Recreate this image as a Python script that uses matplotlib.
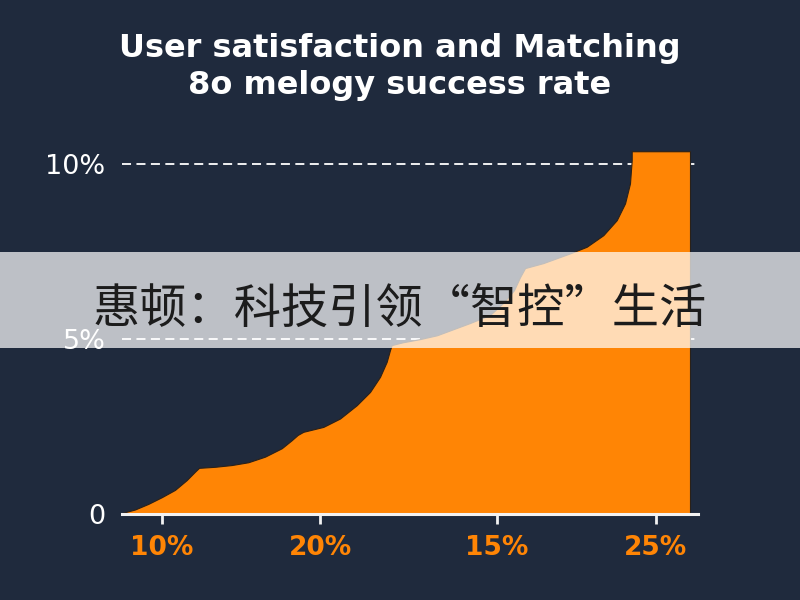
import matplotlib
matplotlib.use('Agg')
import matplotlib.pyplot as plt
from matplotlib.patches import Rectangle

BG = '#1f2a3d'
ORANGE = '#ff8505'

title = "User satisfaction and Matching\n8o melogy success rate"
banner = "惠顿：科技引领“智控”生活"

# curve (x: position along axis 0-100, y: percent)
curve_x = [0.23, 2.26, 4.57, 6.89, 9.20, 11.23, 12.67, 13.37, 16.15, 19.05,
           21.93, 24.83, 27.73, 29.46, 30.50, 31.48, 34.95, 37.85, 40.75, 43.06,
           44.79, 45.95, 46.53, 46.82, 48.78, 51.74, 54.69, 60.42, 63.89, 66.15,
           68.06, 69.10, 69.97, 73.09, 77.78, 80.68, 83.56, 85.89, 87.33, 88.19,
           88.49, 88.49, 98.61, 98.61]
curve_y = [0.04, 0.13, 0.29, 0.48, 0.69, 0.97, 1.21, 1.32, 1.35, 1.40,
           1.48, 1.64, 1.88, 2.11, 2.26, 2.35, 2.49, 2.73, 3.11, 3.49,
           3.92, 4.35, 4.69, 4.83, 4.91, 5.00, 5.11, 5.46, 5.69, 6.03,
           6.40, 6.77, 7.03, 7.17, 7.45, 7.64, 7.97, 8.40, 8.88, 9.45,
           10.11, 10.37, 10.37, 0.0]

xtick_pos = [6.9, 34.4, 65.1, 92.7]
xtick_labels = ["10%", "20%", "15%", "25%"]
ytick_pos = [0, 5, 10]
ytick_labels = ["0", "5%", "10%"]

fig = plt.figure(figsize=(8, 6), dpi=100, facecolor=BG)
ax = fig.add_axes([0.1525, 0.1433, 0.72, 0.6233])
ax.set_facecolor(BG)

for yv in ytick_pos[1:]:
    ax.axhline(yv, color='white', lw=1.3, ls=(0, (5, 3)), zorder=1)

ax.fill_between(curve_x, curve_y, 0, color=ORANGE, lw=0.8,
                edgecolor='#2b2118', zorder=2)

ax.set_xlim(0, 100)
ax.set_ylim(0, 10.69)

for s in ['top', 'right', 'left']:
    ax.spines[s].set_visible(False)
ax.spines['bottom'].set_color('#f2f2f2')
ax.spines['bottom'].set_linewidth(2.2)
ax.spines['bottom'].set_zorder(3)

ax.set_xticks(xtick_pos)
ax.set_xticklabels(xtick_labels, fontsize=19, fontweight='bold')
ax.tick_params(axis='x', colors='#f2f2f2', length=7, width=2, pad=8)
for lab in ax.get_xticklabels():
    lab.set_color(ORANGE)

ax.set_yticks(ytick_pos)
ax.set_yticklabels(ytick_labels, fontsize=19.5, color='white')
ax.tick_params(axis='y', length=0, pad=12)

fig.text(0.5, 0.945, title, ha='center', va='top', color='white',
         fontsize=23, fontweight='bold', linespacing=1.26)

fig.patches.append(Rectangle((0, 0.42), 1, 0.16, transform=fig.transFigure,
                             facecolor='white', alpha=0.71, zorder=5))
fig.text(0.5, 0.482, banner, ha='center', va='center', color='#1c1c1c',
         fontsize=34, family=['Noto Sans CJK SC', 'DejaVu Sans'], zorder=6)

fig.savefig('out.png', dpi=100, facecolor=BG)
